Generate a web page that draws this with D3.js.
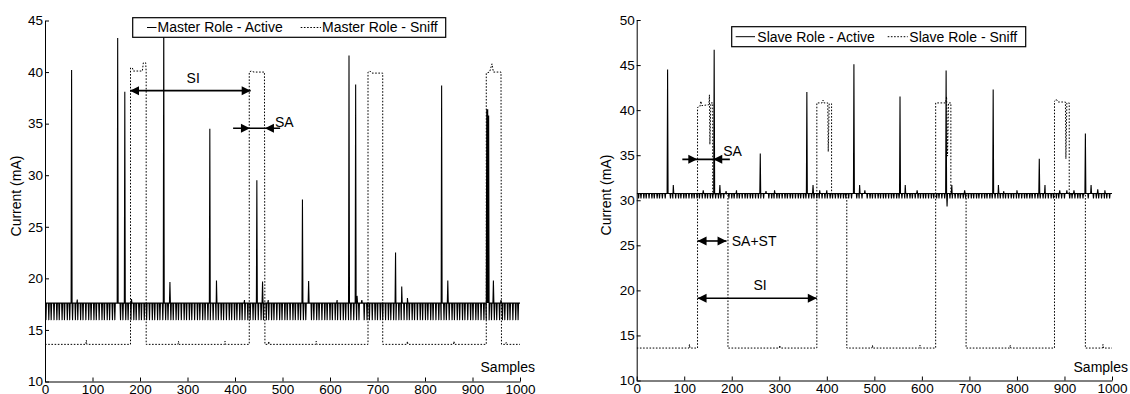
<!DOCTYPE html>
<html>
<head>
<meta charset="utf-8">
<script src="https://cdn.jsdelivr.net/npm/d3@7"></script>
<style>
  body { margin: 0; background: #fff; }
  svg text { font-family: "Liberation Sans", Arial, sans-serif; fill: #000; }
</style>
</head>
<body>
<svg id="chart" width="1130" height="394"></svg>
<script>
// ---- data ----
const xTicks = [0, 100, 200, 300, 400, 500, 600, 700, 800, 900, 1000];
const masterYTicks = [10, 15, 20, 25, 30, 35, 40, 45];
const slaveYTicks = [10, 15, 20, 25, 30, 35, 40, 45, 50];

// Master role, active: baseline, periodic dips and spikes (sample, mA)
const masterBase = 17.6;
const masterDipLevel = 15.95;
const masterDips = [2, 8, 13, 19, 25, 30, 36, 41, 47, 52, 58, 64, 69, 75, 80, 86, 92, 97, 103, 108, 114, 120, 125, 131, 136, 142, 147, 153, 159, 164, 170, 175, 181, 187, 192, 198, 203, 209, 214, 220, 226, 231, 237, 242, 248, 254, 259, 265, 270, 276, 281, 287, 293, 298, 304, 309, 315, 321, 326, 332, 337, 343, 348, 354, 360, 365, 371, 376, 382, 388, 393, 399, 404, 410, 415, 421, 427, 432, 438, 443, 449, 455, 460, 466, 471, 477, 482, 488, 494, 499, 505, 510, 516, 522, 527, 533, 538, 544, 549, 555, 561, 566, 572, 577, 583, 589, 594, 600, 605, 611, 616, 622, 628, 633, 639, 644, 650, 656, 661, 667, 672, 678, 683, 689, 695, 700, 706, 711, 717, 723, 728, 734, 739, 745, 750, 756, 762, 767, 773, 778, 784, 790, 795, 801, 806, 812, 817, 823, 829, 834, 840, 845, 851, 857, 862, 868, 873, 879, 884, 890, 896, 901, 907, 912, 918, 924, 929, 935, 940, 946, 951, 957, 963, 968, 974, 979, 985, 991, 996];
const masterSpikes = [[56, 40.2], [68, 17.95], [153, 43.3], [168, 38.1], [182, 18.0], [250, 46], [263, 19.65], [347, 34.5], [361, 19.8], [420, 17.9], [446, 29.5], [458, 19.7], [470, 17.9], [542, 27.65], [555, 19.75], [615, 17.9], [640, 41.6], [654, 38.8], [657, 18.3], [667, 17.9], [738, 22.5], [751, 19.2], [763, 18.1], [835, 38.7], [848, 19.8], [930, 36.4], [932, 36.4], [934, 35.8], [944, 19.8], [960, 17.9]];

// Master role, sniff: step outline vertices (sample, mA)
const masterSniff = [[0, 13.6], [86, 13.6], [87, 14.0], [88, 13.6], [180, 13.6], [180, 40.4], [184, 40.4], [186, 40.1], [205, 40.1], [207, 40.9], [212, 40.9], [213, 40.0], [213, 13.6], [280, 13.6], [281, 13.9], [282, 13.6], [378, 13.6], [379, 13.9], [380, 13.6], [430, 13.6], [430, 40.0], [434, 40.1], [440, 40.0], [462, 40.0], [463, 13.6], [470, 13.6], [471, 13.9], [472, 13.6], [570, 13.6], [571, 13.9], [572, 13.6], [680, 13.6], [680, 40.0], [684, 40.1], [688, 39.9], [711, 39.9], [711, 13.6], [762, 13.6], [763, 13.9], [764, 13.6], [860, 13.6], [861, 13.9], [862, 13.6], [929, 13.6], [929, 39.9], [936, 40.0], [941, 40.8], [944, 40.0], [960, 40.0], [961, 13.6], [970, 13.6], [971, 13.8], [972, 13.6], [1000, 13.6]];

// Slave role, active
const slaveBase = 30.75;
const slaveDipLevel = 30.2;
const slaveDips = [4, 9, 15, 20, 26, 32, 37, 43, 48, 54, 60, 65, 71, 76, 82, 88, 93, 99, 104, 110, 116, 121, 127, 132, 138, 144, 149, 155, 160, 166, 172, 177, 183, 188, 194, 200, 205, 211, 216, 222, 228, 233, 239, 244, 250, 256, 261, 267, 272, 278, 284, 289, 295, 300, 306, 312, 317, 323, 328, 334, 340, 345, 351, 356, 362, 368, 373, 379, 384, 390, 396, 401, 407, 412, 418, 424, 429, 435, 440, 446, 452, 457, 463, 468, 474, 480, 485, 491, 496, 502, 508, 513, 519, 524, 530, 536, 541, 547, 552, 558, 564, 569, 575, 580, 586, 592, 597, 603, 608, 614, 620, 625, 631, 636, 642, 648, 653, 659, 664, 670, 676, 681, 687, 692, 698, 704, 709, 715, 720, 726, 732, 737, 743, 748, 754, 760, 765, 771, 776, 782, 788, 793, 799, 804, 810, 816, 821, 827, 832, 838, 844, 849, 855, 860, 866, 872, 877, 883, 888, 894, 900, 905, 911, 916, 922, 928, 933, 939, 944, 950, 956, 961, 967, 972, 978, 984, 989, 995];
const slaveSpikes = [[65, 44.5], [77, 31.7], [140, 31.1], [163, 46.7], [175, 31.7], [188, 31.0], [210, 31.1], [260, 35.2], [272, 31.0], [290, 31.1], [358, 42.0], [371, 31.7], [385, 31.1], [400, 31.1], [457, 45.1], [469, 31.7], [480, 31.1], [554, 41.5], [565, 31.7], [590, 31.1], [651, 44.4], [653, 29.3], [663, 31.7], [690, 31.1], [750, 42.3], [761, 31.7], [772, 31.0], [800, 31.1], [847, 34.6], [859, 31.7], [890, 31.1], [905, 31.1], [920, 31.1], [944, 37.4], [956, 31.7], [970, 31.2], [985, 31.1]];

const slaveSniff = [[0, 13.6], [110, 13.6], [111, 14.0], [112, 13.6], [128, 13.6], [128, 40.3], [133, 40.4], [135, 41.0], [137, 40.5], [152, 40.6], [153, 41.7], [154, 36.2], [156, 40.8], [160, 40.8], [160, 30.7], [192, 30.7], [192, 13.6], [300, 13.6], [301, 13.9], [302, 13.6], [379, 13.6], [379, 40.8], [390, 40.8], [392, 41.1], [394, 40.8], [402, 40.8], [403, 35.4], [405, 40.7], [410, 40.7], [410, 30.7], [442, 30.7], [442, 13.6], [495, 13.6], [496, 13.9], [497, 13.6], [595, 13.6], [596, 13.9], [597, 13.6], [629, 13.6], [629, 40.8], [650, 40.8], [652, 41.5], [654, 34.9], [656, 40.8], [661, 40.8], [661, 30.7], [693, 30.7], [693, 13.6], [785, 13.6], [786, 13.9], [787, 13.6], [879, 13.6], [879, 41.0], [883, 41.2], [886, 40.9], [902, 40.9], [903, 34.6], [905, 40.8], [910, 40.8], [910, 30.7], [944, 30.7], [944, 13.6], [980, 13.6], [981, 14.0], [982, 13.6], [1000, 13.6]];

// annotations in data units
const masterNotes = [
  {x1: 179, x2: 433, y: 38.2, heads: "out", label: "SI", lx: 312, ly: 38.94, anchor: "middle"},
  {x1: 396, x2: 495, y: 34.55, heads: "in", tip1: 431.5, tip2: 463, label: "SA", lx: 484, ly: 34.72, anchor: "start"}
];
const slaveNotes = [
  {x1: 96, x2: 196, y: 34.54, heads: "in", tip1: 127.5, tip2: 161, label: "SA", lx: 182, ly: 34.9, anchor: "start"},
  {x1: 128, x2: 189, y: 25.48, heads: "out", label: "SA+ST", lx: 200, ly: 24.92, anchor: "start"},
  {x1: 128, x2: 379, y: 19.12, heads: "out", label: "SI", lx: 259.5, ly: 19.99, anchor: "middle"}
];

// ---- drawing ----
const svg = d3.select("#chart");

function buildActive(base, dipLevel, dips, spikes) {
  const vals = new Map();
  dips.forEach(i => vals.set(i, dipLevel));
  spikes.forEach(([i, v]) => vals.set(i, v));
  return d3.range(0, 1001).map(i => [i, vals.has(i) ? vals.get(i) : base]);
}

function drawPanel(cfg) {
  const x = d3.scaleLinear().domain([0, 1000]).range([cfg.left, cfg.right]);
  const y = d3.scaleLinear().domain(cfg.yDomain).range([cfg.bottom, cfg.top]);
  const g = svg.append("g");

  g.append("clipPath").attr("id", cfg.id + "-clip")
    .append("rect")
    .attr("x", cfg.left).attr("y", cfg.top)
    .attr("width", cfg.right - cfg.left + 1).attr("height", cfg.bottom - cfg.top);

  const line = d3.line().x(d => x(d[0])).y(d => y(d[1]));
  const plot = g.append("g").attr("clip-path", `url(#${cfg.id}-clip)`);

  plot.append("path")
    .datum(buildActive(cfg.base, cfg.dipLevel, cfg.dips, cfg.spikes))
    .attr("d", line)
    .attr("fill", "none")
    .attr("stroke", "#000")
    .attr("stroke-width", 1.1);

  plot.append("path")
    .datum(cfg.sniff)
    .attr("d", line)
    .attr("fill", "none")
    .attr("stroke", "#000")
    .attr("stroke-width", 1)
    .attr("stroke-dasharray", "1.6,1.6");

  // axes: ticks inside, like matlab
  const xAxis = g.append("g")
    .attr("transform", `translate(0,${cfg.bottom})`)
    .call(d3.axisBottom(x).tickValues(xTicks).tickFormat(d3.format("d"))
      .tickSizeInner(-4).tickSizeOuter(0).tickPadding(2.5));
  const yAxis = g.append("g")
    .attr("transform", `translate(${cfg.left},0)`)
    .call(d3.axisLeft(y).tickValues(cfg.yTicks).tickSizeInner(-4).tickSizeOuter(0).tickPadding(2));
  [xAxis, yAxis].forEach(a => {
    a.attr("font-family", null).attr("font-size", null);
    a.selectAll("text").style("font-size", "13.5px");
    a.select(".domain").attr("stroke", "#000").attr("stroke-width", 1);
    a.selectAll(".tick line").attr("stroke", "#000");
  });

  g.append("text")
    .attr("transform", `translate(${cfg.yLabelX},${cfg.yLabelY}) rotate(-90)`)
    .attr("text-anchor", "middle")
    .style("font-size", "14px")
    .text("Current (mA)");

  g.append("text")
    .attr("x", cfg.samplesX).attr("y", 371.5)
    .attr("text-anchor", "end")
    .style("font-size", "14px")
    .text("Samples");

  // annotations
  cfg.notes.forEach(n => {
    const yy = y(n.y);
    g.append("line")
      .attr("x1", x(n.x1)).attr("x2", x(n.x2))
      .attr("y1", yy).attr("y2", yy)
      .attr("stroke", "#000").attr("stroke-width", 1.6);
    const heads = n.heads === "out"
      ? [[x(n.x1), -1], [x(n.x2), 1]]
      : [[x(n.tip1), 1], [x(n.tip2), -1]];
    heads.forEach(([tx, dir]) => {
      g.append("path")
        .attr("d", `M${tx},${yy} L${tx - dir * 9},${yy - 4.5} L${tx - dir * 9},${yy + 4.5} Z`)
        .attr("fill", "#000");
    });
    g.append("text")
      .attr("x", x(n.lx)).attr("y", y(n.ly))
      .attr("text-anchor", n.anchor)
      .style("font-size", "14px")
      .text(n.label);
  });

  // legend
  const lg = cfg.legend;
  g.append("rect")
    .attr("x", lg.x).attr("y", lg.y).attr("width", lg.w).attr("height", lg.h)
    .attr("fill", "#fff").attr("stroke", "#000").attr("stroke-width", 1.2);
  lg.items.forEach(it => {
    g.append("line")
      .attr("x1", it.lx1).attr("x2", it.lx2)
      .attr("y1", lg.y + lg.h / 2).attr("y2", lg.y + lg.h / 2)
      .attr("stroke", "#000").attr("stroke-width", 1)
      .attr("stroke-dasharray", it.dashed ? "1.6,1.6" : null);
    g.append("text")
      .attr("x", it.tx).attr("y", lg.baseline)
      .style("font-size", "14px")
      .text(it.label);
  });
}

drawPanel({
  id: "master", left: 45, right: 520, top: 20.5, bottom: 381.5,
  yDomain: [10, 45], yTicks: masterYTicks,
  base: masterBase, dipLevel: masterDipLevel, dips: masterDips, spikes: masterSpikes,
  sniff: masterSniff, notes: masterNotes,
  yLabelX: 20.5, yLabelY: 196, samplesX: 535,
  legend: {x: 132.7, y: 17.7, w: 313, h: 19.6, baseline: 31.8, items: [
    {lx1: 147, lx2: 156.5, tx: 157.5, label: "Master Role - Active", dashed: false},
    {lx1: 300.7, lx2: 321, tx: 322, label: "Master Role - Sniff", dashed: true}
  ]}
});

drawPanel({
  id: "slave", left: 636.7, right: 1112, top: 20, bottom: 380.5,
  yDomain: [10, 50], yTicks: slaveYTicks,
  base: slaveBase, dipLevel: slaveDipLevel, dips: slaveDips, spikes: slaveSpikes,
  sniff: slaveSniff, notes: slaveNotes,
  yLabelX: 611, yLabelY: 195, samplesX: 1128,
  legend: {x: 731.7, y: 26.7, w: 294, h: 20, baseline: 42.3, items: [
    {lx1: 735.7, lx2: 755, tx: 757.3, label: "Slave Role - Active", dashed: false},
    {lx1: 887.7, lx2: 907.7, tx: 909.3, label: "Slave Role - Sniff", dashed: true}
  ]}
});
</script>
</body>
</html>
